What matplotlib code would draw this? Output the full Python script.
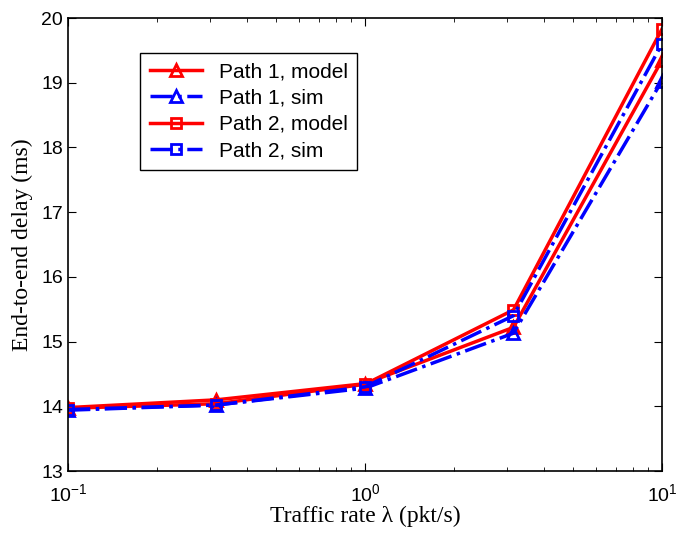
import numpy as np
import matplotlib.pyplot as plt

rate = [0.1, 0.3162, 1.0, 3.162, 10.0]
p1_model = [13.98, 14.10, 14.35, 15.22, 19.35]
p1_sim = [13.94, 14.02, 14.28, 15.13, 19.03]
p2_model = [13.97, 14.04, 14.34, 15.49, 19.83]
p2_sim = [13.95, 14.02, 14.30, 15.40, 19.60]

plt.rcParams['font.family'] = ['Liberation Sans', 'DejaVu Sans']
plt.rcParams['mathtext.fontset'] = 'custom'
plt.rcParams['mathtext.rm'] = 'Liberation Sans'

fig = plt.figure(figsize=(6.78, 5.33), dpi=100)
ax = fig.add_axes([0.1003, 0.1163, 0.8761, 0.8499])

lw = 2.5
ax.plot(rate, p1_model, '-', color='red', lw=lw, marker='^', ms=9, mfc='none', mew=2, label='Path 1, model')
ax.plot(rate, p1_sim, '-.', color='blue', lw=lw, marker='^', ms=9, mfc='none', mew=2, label='Path 1, sim')
ax.plot(rate, p2_model, '-', color='red', lw=lw, marker='s', ms=7, mfc='none', mew=2, label='Path 2, model')
ax.plot(rate, p2_sim, '-.', color='blue', lw=lw, marker='s', ms=7, mfc='none', mew=2, label='Path 2, sim')

ax.set_xscale('log')
ax.set_xlim(0.1, 10)
ax.set_ylim(13, 20)
ax.set_yticks(range(13, 21))
ax.tick_params(which='both', direction='in', top=True, right=True, labelsize=14)
ax.tick_params(axis='x', which='major', pad=9)
ax.tick_params(which='major', length=6)
ax.tick_params(which='minor', length=3)
for s in ax.spines.values():
    s.set_linewidth(1.2)

ax.set_xlabel('Traffic rate λ (pkt/s)', family='Liberation Serif', fontsize=17, labelpad=0)
ax.set_ylabel('End-to-end delay (ms)', family='Liberation Serif', fontsize=17, labelpad=6)

leg = ax.legend(loc='upper left', bbox_to_anchor=(0.122, 0.923), fontsize=15,
                fancybox=False, edgecolor='black', framealpha=1, borderaxespad=0,
                handlelength=2.5, borderpad=0.45, labelspacing=0.35)
leg.get_frame().set_linewidth(1)

fig.savefig('out.png', dpi=100)
